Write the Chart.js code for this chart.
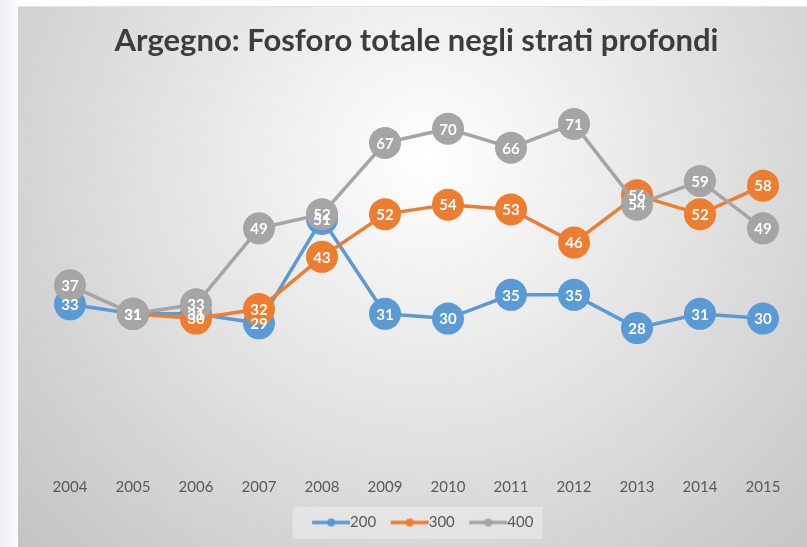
<!DOCTYPE html>
<html>
<head>
<meta charset="utf-8">
<script src="https://cdn.jsdelivr.net/npm/chart.js@4.4.1/dist/chart.umd.min.js"></script>
<style>
  html, body { margin: 0; padding: 0; }
  body {
    width: 807px; height: 547px; overflow: hidden; position: relative;
    background: linear-gradient(to right, #eef0f7, #fafbfd 18px, #ffffff 18px);
  }
  #wrap {
    position: absolute; left: 18px; top: 6px; width: 789px; height: 541px;
    border-top: 1px solid #e2e2e2; box-sizing: border-box;
  }
</style>
</head>
<body>
<div id="wrap"><canvas id="chart"></canvas></div>
<script>
// --- Data ---
const years = ['2004', '2005', '2006', '2007', '2008', '2009', '2010', '2011', '2012', '2013', '2014', '2015'];
const depth200 = [33, 31, 31, 29, 51, 31, 30, 35, 35, 28, 31, 30];
const depth300 = [null, 31, 30, 32, 43, 52, 54, 53, 46, 56, 52, 58];
const depth400 = [37, 31, 33, 49, 52, 67, 70, 66, 71, 54, 59, 49];

const BLUE = '#5b9bd5';
const ORANGE = '#ed7d31';
const GRAY = '#a5a5a5';
const FONT = 'Lato, "Open Sans", sans-serif';

// legend marker: line with a dot, padded on the left so the text sits right after the line
function legendMarker(color) {
    const c = document.createElement('canvas');
    c.width = 60; c.height = 10;
    const g = c.getContext('2d');
    g.strokeStyle = color;
    g.lineWidth = 3.5;
    g.beginPath();
    g.moveTo(21, 5); g.lineTo(59, 5);
    g.stroke();
    g.fillStyle = color;
    g.beginPath();
    g.arc(40, 5, 4, 0, Math.PI * 2);
    g.fill();
    return c;
}

// --- Background + legend box ---
const backgroundPlugin = {
    id: 'background',
    beforeDraw(chart) {
        const ctx = chart.ctx;
        const w = chart.width, h = chart.height;
        ctx.save();
        const grad = ctx.createRadialGradient(w * 0.52, h * 0.28, 0, w * 0.52, h * 0.28, w * 0.72);
        grad.addColorStop(0, '#ffffff');
        grad.addColorStop(1, '#c3c3c3');
        ctx.fillStyle = grad;
        ctx.fillRect(0, 0, w, h);

        const boxes = chart.legend && chart.legend.legendHitBoxes;
        if (boxes && boxes.length) {
            const left = Math.min(...boxes.map(b => b.left)) - 7;
            const right = Math.max(...boxes.map(b => b.left + b.width)) + 9;
            const top = Math.min(...boxes.map(b => b.top)) - 8;
            const bottom = Math.max(...boxes.map(b => b.top + b.height)) + 9;
            ctx.fillStyle = 'rgba(245,245,245,0.45)';
            ctx.fillRect(left, top, right - left, bottom - top);
        }
        ctx.restore();
    }
};

// --- White value labels centred on the markers ---
const valueLabelPlugin = {
    id: 'valueLabels',
    afterDatasetsDraw(chart) {
        const ctx = chart.ctx;
        ctx.save();
        ctx.font = 'bold 15px ' + FONT;
        ctx.fillStyle = '#ffffff';
        ctx.textAlign = 'center';
        ctx.textBaseline = 'middle';
        chart.data.datasets.forEach(function(ds, i) {
            const meta = chart.getDatasetMeta(i);
            meta.data.forEach(function(pt, j) {
                const v = ds.data[j];
                if (v === null || v === undefined) return;
                ctx.fillText(String(v), pt.x, pt.y + 1);
            });
        });
        ctx.restore();
    }
};

function makeDataset(label, data, color, order) {
    return {
        label: label,
        data: data,
        borderColor: color,
        backgroundColor: color,
        borderWidth: 3.5,
        pointRadius: 16,
        pointHoverRadius: 16,
        pointBorderWidth: 0,
        pointBackgroundColor: color,
        tension: 0,
        order: order,
        clip: false
    };
}

document.addEventListener('DOMContentLoaded', function() {
    const ctx = document.getElementById('chart').getContext('2d');
    new Chart(ctx, {
        type: 'line',
        data: {
            labels: years,
            datasets: [
                makeDataset('200', depth200, BLUE, 2),
                makeDataset('300', depth300, ORANGE, 1),
                makeDataset('400', depth400, GRAY, 0)
            ]
        },
        options: {
            responsive: true,
            maintainAspectRatio: false,
            animation: false,
            devicePixelRatio: 1,
            layout: {
                autoPadding: false,
                padding: { left: 20.5, right: 12.5, top: 0, bottom: 7 }
            },
            scales: {
                x: {
                    offset: true,
                    grid: { display: false, drawTicks: false },
                    border: { display: false },
                    ticks: {
                        padding: 17,
                        color: '#595959',
                        font: { family: FONT, size: 15 }
                    }
                },
                y: {
                    display: false,
                    min: 0,
                    max: 80
                }
            },
            plugins: {
                title: {
                    display: true,
                    text: 'Argegno: Fosforo totale negli strati profondi',
                    color: '#3d3d3d',
                    font: { family: FONT, size: 31, weight: 'bold' },
                    padding: { top: 15, bottom: 22 }
                },
                legend: {
                    position: 'bottom',
                    labels: {
                        color: '#595959',
                        font: { family: FONT, size: 15 },
                        usePointStyle: true,
                        pointStyleWidth: 43,
                        boxHeight: 10,
                        padding: 2,
                        sort: function(a, b) { return a.datasetIndex - b.datasetIndex; },
                        generateLabels: function(chart) {
                            const items = Chart.defaults.plugins.legend.labels.generateLabels(chart);
                            items.forEach(function(item) {
                                const ds = chart.data.datasets[item.datasetIndex];
                                item.pointStyle = legendMarker(ds.borderColor);
                            });
                            return items;
                        }
                    }
                },
                tooltip: { enabled: false }
            }
        },
        plugins: [backgroundPlugin, valueLabelPlugin]
    });
});
</script>
</body>
</html>
